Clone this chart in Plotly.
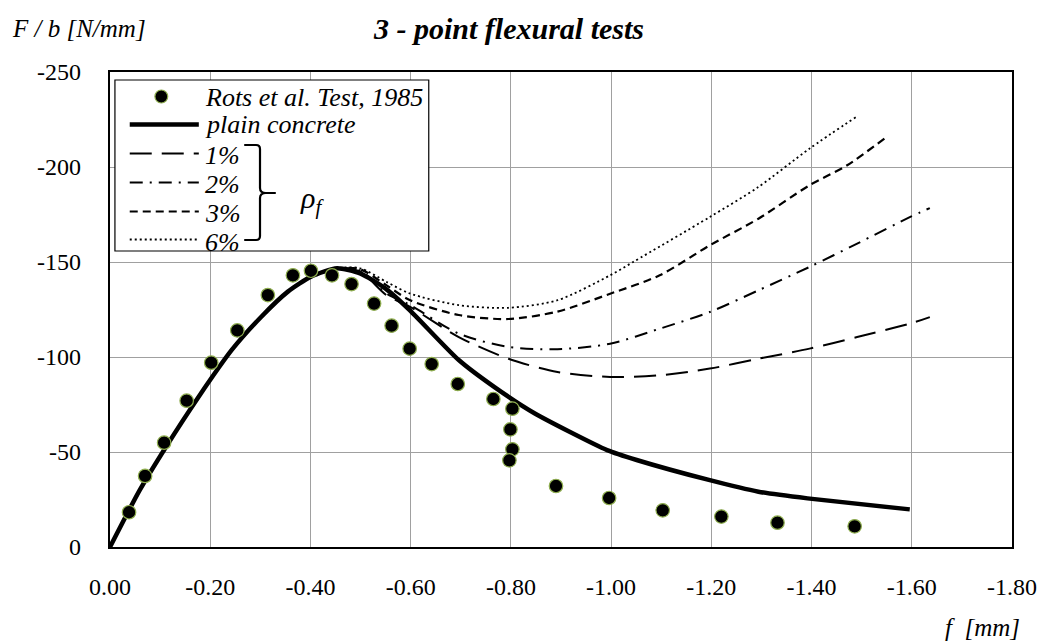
import plotly.graph_objects as go

# ---------------- data ----------------
test_x = [-0.038, -0.070, -0.108, -0.153, -0.202, -0.254, -0.315, -0.365, -0.401,
          -0.443, -0.482, -0.527, -0.562, -0.598, -0.642, -0.694, -0.765, -0.803,
          -0.799, -0.803, -0.797, -0.890, -0.996, -1.103, -1.220, -1.332, -1.486]
test_y = [-18.3, -37.4, -54.9, -77.0, -97.0, -114.0, -132.6, -143.0, -145.4,
          -143.0, -138.4, -128.1, -116.5, -104.4, -96.3, -85.8, -77.9, -72.8,
          -61.9, -51.4, -45.6, -32.1, -25.8, -19.3, -16.0, -12.8, -10.9]

plain_x = [0, -0.059, -0.112, -0.177, -0.243, -0.302, -0.355, -0.401, -0.453, -0.499,
           -0.550, -0.598, -0.696, -0.768, -0.847, -0.992, -1.051, -1.195, -1.294,
           -1.392, -1.596]
plain_y = [0, -29.8, -52.8, -79.1, -103.7, -121.2, -134.4, -142.3, -146.7, -144.0,
           -136.0, -124.7, -98.4, -84.0, -70.4, -51.0, -45.8, -35.3, -29.1,
           -25.6, -19.8]

f1_x = [-0.401, -0.453, -0.499, -0.552, -0.598, -0.696, -0.795, -0.893, -0.998,
        -1.097, -1.197, -1.294, -1.396, -1.491, -1.597, -1.636]
f1_y = [-142.3, -146.7, -145.0, -132.5, -126.5, -110.5, -99.1, -92.1, -89.5,
        -90.4, -93.9, -99.1, -104.4, -110.5, -117.6, -121.0]

f2_x = [-0.401, -0.453, -0.499, -0.552, -0.598, -0.696, -0.795, -0.893, -0.998,
        -1.097, -1.197, -1.294, -1.396, -1.491, -1.597, -1.636]
f2_y = [-142.3, -146.7, -145.5, -133.4, -127.5, -112.3, -105.3, -104.1, -107.0,
        -114.9, -123.7, -135.1, -147.4, -159.7, -173.7, -178.4]

f3_x = [-0.401, -0.453, -0.499, -0.552, -0.598, -0.696, -0.795, -0.893, -0.998,
        -1.097, -1.197, -1.294, -1.396, -1.471, -1.547]
f3_y = [-142.3, -146.7, -146.2, -137.7, -130.0, -122.1, -120.0, -123.9, -133.3,
        -143.0, -158.8, -172.8, -190.4, -200.9, -215.3]

f6_x = [-0.401, -0.453, -0.499, -0.552, -0.598, -0.696, -0.795, -0.893, -0.998,
        -1.044, -1.197, -1.294, -1.396, -1.491]
f6_y = [-142.3, -146.7, -146.7, -139.5, -133.5, -127.3, -125.9, -129.9, -143.0,
        -150.0, -173.7, -189.5, -209.7, -226.7]

x_ticks = [0, -0.2, -0.4, -0.6, -0.8, -1.0, -1.2, -1.4, -1.6, -1.8]
x_tick_labels = ["0.00", "-0.20", "-0.40", "-0.60", "-0.80", "-1.00", "-1.20",
                 "-1.40", "-1.60", "-1.80"]
y_ticks = [0, -50, -100, -150, -200, -250]
y_tick_labels = ["0", "-50", "-100", "-150", "-200", "-250"]

legend_labels = ["Rots et al. Test, 1985", "plain concrete", "1%", "2%", "3%", "6%"]

# ---------------- layout geometry (pixels) ----------------
W, H = 1049, 644
L, R, T, B = 110, 1024, 72, 547
FONT = "Liberation Serif"


def px(v):
    return (v - L) / (R - L)


def py(v):
    return (B - v) / (B - T)


fig = go.Figure()

dash_styles = {"1%": "22px,10px", "2%": "13px,7px,2px,7px", "3%": "8px,5px", "6%": "2px,3px"}
widths = {"1%": 2, "2%": 2, "3%": 2.2, "6%": 1.8}

fig.add_trace(go.Scatter(x=plain_x, y=plain_y, mode="lines", name="plain concrete",
                         line=dict(color="black", width=4.5, shape="spline", smoothing=0.6),
                         showlegend=False))
for name, xs, ys in [("1%", f1_x, f1_y), ("2%", f2_x, f2_y), ("3%", f3_x, f3_y), ("6%", f6_x, f6_y)]:
    fig.add_trace(go.Scatter(x=xs, y=ys, mode="lines", name=name,
                             line=dict(color="black", width=widths[name], dash=dash_styles[name],
                                       shape="spline", smoothing=0.8),
                             showlegend=False))
fig.add_trace(go.Scatter(x=test_x, y=test_y, mode="markers", name="Rots et al. Test, 1985",
                         marker=dict(color="black", size=13.5, line=dict(color="#8fae4f", width=1.2)),
                         showlegend=False))

fig.update_layout(
    width=W, height=H,
    margin=dict(l=L, r=W - R, t=T, b=H - B, pad=0),
    paper_bgcolor="white", plot_bgcolor="white",
    font=dict(family=FONT, size=24, color="black"),
    showlegend=False,
)
axis_common = dict(showgrid=True, gridcolor="#a0a0a0", gridwidth=1, zeroline=False,
                   showline=True, linecolor="black", linewidth=2.2, mirror=True,
                   ticks="", tickfont=dict(family=FONT, size=24, color="black"))
fig.update_xaxes(range=[0, -1.8], tickvals=x_ticks, ticktext=x_tick_labels,
                 ticklabelstandoff=17, **axis_common)
fig.update_yaxes(range=[0, -250], tickvals=y_ticks, ticktext=y_tick_labels,
                 ticklabelstandoff=22, **axis_common)

# ---------------- legend (drawn as a boxed key) ----------------
shapes = []
shapes.append(dict(type="rect", xref="paper", yref="paper", layer="above",
                   x0=px(115), x1=px(433), y0=py(80), y1=py(251),
                   line=dict(color="black", width=1.2), fillcolor="white"))
shapes.append(dict(type="circle", xref="paper", yref="paper", layer="above",
                   x0=px(155.5), x1=px(168.5), y0=py(90), y1=py(103),
                   line=dict(color="#8fae4f", width=1.2), fillcolor="black"))
key_rows = [124.5, 153.5, 182.5, 211.5, 239.5]
key_styles = [("solid", 4.5), (dash_styles["1%"], 2), (dash_styles["2%"], 2),
              (dash_styles["3%"], 2.2), (dash_styles["6%"], 1.8)]
for yk, (dsh, w) in zip(key_rows, key_styles):
    shapes.append(dict(type="line", xref="paper", yref="paper", layer="above",
                       x0=px(130), x1=px(200), y0=py(yk), y1=py(yk),
                       line=dict(color="black", width=w, dash=dsh)))

# bracket for rho_f
def P(a, b):
    return f"{px(a):.5f},{py(b):.5f}"

bracket = (f"M{P(246,145)} L{P(258,145)} Q{P(262,145)} {P(262,149)} L{P(262,188)} "
           f"Q{P(262,193)} {P(268,193)} L{P(278,193)} M{P(268,193)} "
           f"Q{P(262,193)} {P(262,198)} L{P(262,236)} Q{P(262,240)} {P(258,240)} L{P(246,240)}")
shapes.append(dict(type="path", xref="paper", yref="paper", layer="above", path=bracket,
                   line=dict(color="black", width=2.2)))
fig.update_layout(shapes=shapes)

ann = []
text_rows = [97, 125, 155, 184, 213, 242]
for lab, yt in zip(legend_labels, text_rows):
    ann.append(dict(xref="paper", yref="paper", x=px(204), y=py(yt), xanchor="left",
                    yanchor="middle", text=lab, showarrow=False,
                    font=dict(family=FONT, size=26, style="italic", color="black")))
ann.append(dict(xref="paper", yref="paper", x=px(300), y=py(200), xanchor="left",
                yanchor="middle", text="ρ<sub>f</sub>", showarrow=False,
                font=dict(family=FONT, size=30, style="italic", color="black")))
ann.append(dict(xref="paper", yref="paper", x=px(514), y=py(28), xanchor="center",
                yanchor="middle", text="3 - point flexural tests", showarrow=False,
                font=dict(family=FONT, size=30, style="italic", weight="bold", color="black")))
ann.append(dict(xref="paper", yref="paper", x=px(9), y=py(28), xanchor="left",
                yanchor="middle", text="F / b [N/mm]", showarrow=False,
                font=dict(family=FONT, size=25, style="italic", color="black")))
ann.append(dict(xref="paper", yref="paper", x=px(1034), y=py(643), xanchor="right",
                yanchor="bottom", text="f  [mm]", showarrow=False,
                font=dict(family=FONT, size=25, style="italic", color="black")))
fig.update_layout(annotations=ann)

fig.write_html("out.html")
